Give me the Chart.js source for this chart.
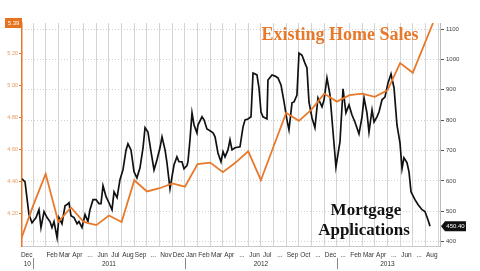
<!DOCTYPE html>
<html>
<head>
<meta charset="utf-8">
<script src="https://cdn.jsdelivr.net/npm/chart.js@4.4.1/dist/chart.umd.min.js"></script>
<style>
  html, body { margin: 0; padding: 0; background: #fff; }
  canvas { display: block; }
</style>
</head>
<body>
<canvas id="homeChart" width="480" height="271"></canvas>
<script>
// x values are months counted from 1 Jan 2011 (0 = start of Jan 2011)
const firstMonth = -1; // Dec 2010
const monthLabels = ['Dec', '', 'Feb', 'Mar', 'Apr', '...', 'Jun', 'Jul', 'Aug', 'Sep', '...', 'Nov', 'Dec',
  'Jan', 'Feb', 'Mar', 'Apr', '...', 'Jun', 'Jul', '...', 'Sep', 'Oct', '...', 'Dec',
  '...', 'Feb', 'Mar', 'Apr', '...', 'Jun', '...', 'Aug'];
const yearLabels = ['10', '2011', '2012', '2013'];
const yearMids = [-0.45, 6, 18, 28];
const yearBreaks = [0, 12, 24];

// Existing home sales, millions (left axis)
const salesMonths = [-1, 0, 1, 2, 3, 4, 5, 6, 7, 8, 9, 10, 11, 12, 13, 14, 15, 16,
  17, 18, 19, 20, 21, 22, 23, 24, 25, 26, 27, 28, 29, 30, 31.6];
const salesValues = [4.03, 4.25, 4.45, 4.15, 4.24, 4.15, 4.13, 4.19, 4.15, 4.41, 4.34, 4.36, 4.39, 4.37, 4.51, 4.52, 4.46, 4.52,
  4.59, 4.41, 4.62, 4.83, 4.78, 4.85, 4.95, 4.90, 4.94, 4.95, 4.93, 4.97, 5.14, 5.08, 5.39];

// Mortgage applications index (right axis)
const mortgageMonths = [
  -0.87, -0.63, -0.32, -0.08, 0.24, 0.47, 0.63, 0.87, 1.11, 1.34,
  1.50, 1.66, 1.90, 2.05, 2.29, 2.53, 2.69, 2.84, 3.00, 3.24,
  3.48, 3.63, 3.87, 4.11, 4.34, 4.50, 4.74, 4.98, 5.21, 5.37,
  5.53, 5.77, 6.00, 6.24, 6.40, 6.64, 6.87, 7.11, 7.35, 7.50,
  7.74, 7.98, 8.21, 8.45, 8.69, 8.85, 9.08, 9.32, 9.56, 9.79,
  10.03, 10.19, 10.43, 10.58, 10.82, 10.98, 11.14, 11.37, 11.53, 11.77,
  11.93, 12.16, 12.24, 12.40, 12.56, 12.72, 12.95, 13.03, 13.35, 13.51,
  13.74, 13.98, 14.22, 14.38, 14.61, 14.85, 15.01, 15.17, 15.40, 15.56,
  15.72, 15.96, 16.35, 16.59, 16.75, 16.98, 17.22, 17.38, 17.69, 17.85,
  18.01, 18.17, 18.48, 18.56, 18.88, 19.12, 19.35, 19.59, 19.83, 20.06,
  20.22, 20.46, 20.62, 20.85, 21.01, 21.25, 21.48, 21.64, 21.80, 22.04,
  22.27, 22.51, 22.83, 22.99, 23.22, 23.46, 23.70, 23.93, 24.25, 24.49,
  24.72, 24.96, 25.20, 25.43, 25.75, 25.99, 26.15, 26.38, 26.54, 26.78,
  26.94, 27.17, 27.33, 27.57, 27.80, 28.04, 28.28, 28.52, 28.75, 28.99,
  29.15, 29.30, 29.54, 29.70, 29.86, 30.17, 30.41, 30.73, 30.96, 31.20,
  31.36];
const mortgageValues = [
  607, 597, 489, 462, 479, 505, 446, 499, 479, 466,
  446, 466, 413, 479, 459, 518, 522, 528, 485, 479,
  459, 466, 446, 489, 466, 505, 538, 538, 525, 525,
  584, 548, 528, 505, 564, 545, 604, 637, 702, 722,
  702, 630, 610, 643, 709, 775, 761, 696, 636, 669,
  709, 745, 702, 660, 574, 614, 653, 679, 663, 663,
  640, 650, 663, 735, 824, 784, 758, 784, 811, 801,
  771, 765, 758, 745, 692, 663, 696, 679, 702, 735,
  702, 709, 712, 778, 801, 804, 811, 955, 949, 906,
  827, 811, 804, 932, 949, 945, 939, 916, 860, 801,
  768, 857, 860, 883, 1021, 1014, 988, 972, 860, 807,
  775, 873, 844, 867, 939, 883, 761, 646, 729, 903,
  824, 850, 817, 794, 755, 811, 873, 824, 761, 834,
  794, 811, 827, 867, 876, 922, 952, 906, 784, 725,
  640, 676, 660, 630, 564, 538, 522, 505, 499, 472,
  450.4];

const leftTicks = [4.2, 4.4, 4.6, 4.8, 5.0, 5.2];
const rightTicks = [400, 500, 600, 700, 800, 900, 1000, 1100];

const ORANGE = '#e8792b';
const xMin = -0.87, xMax = 32.15;

const overlay = {
  id: 'overlay',
  afterDraw(chart) {
    const ctx = chart.ctx;
    const x = chart.scales.x, yL = chart.scales.y, yR = chart.scales.y1;
    ctx.save();

    // year row under the month labels
    ctx.font = '6.5px "Liberation Sans"';
    ctx.fillStyle = '#333';
    ctx.textAlign = 'center';
    ctx.textBaseline = 'middle';
    yearLabels.forEach((t, i) => ctx.fillText(t, x.getPixelForValue(yearMids[i]), 264));
    ctx.strokeStyle = '#888';
    ctx.lineWidth = 1;
    yearBreaks.forEach(v => {
      const px = Math.round(x.getPixelForValue(v)) + 0.5;
      ctx.beginPath(); ctx.moveTo(px, 258); ctx.lineTo(px, 269); ctx.stroke();
    });

    // series names
    ctx.font = 'bold 18px "Liberation Serif"';
    ctx.fillStyle = ORANGE;
    ctx.textBaseline = 'alphabetic';
    ctx.fillText('Existing Home Sales', 340, 40);
    ctx.font = 'bold 17px "Liberation Serif"';
    ctx.fillStyle = '#111';
    ctx.fillText('Mortgage', 366, 215);
    ctx.fillText('Applications', 364, 235);

    // last value tags
    ctx.font = '6px "Liberation Sans"';
    ctx.textBaseline = 'middle';
    const ly = yL.getPixelForValue(salesValues[salesValues.length - 1]);
    ctx.fillStyle = '#e8731f';
    ctx.fillRect(5, ly - 5, 17, 10);
    ctx.fillStyle = '#fff';
    ctx.fillText(salesValues[salesValues.length - 1].toFixed(2), 13.5, ly);

    const ry = yR.getPixelForValue(mortgageValues[mortgageValues.length - 1]);
    ctx.fillStyle = '#111';
    ctx.beginPath();
    ctx.moveTo(441, ry); ctx.lineTo(445, ry - 5); ctx.lineTo(466, ry - 5);
    ctx.lineTo(466, ry + 5); ctx.lineTo(445, ry + 5); ctx.closePath();
    ctx.fill();
    ctx.fillStyle = '#fff';
    ctx.fillText(mortgageValues[mortgageValues.length - 1].toFixed(2), 455.5, ry);
    ctx.restore();
  }
};

new Chart(document.getElementById('homeChart'), {
  type: 'line',
  data: {
    datasets: [{
      label: 'Existing Home Sales',
      data: salesMonths.map((m, i) => ({ x: m, y: salesValues[i] })),
      yAxisID: 'y',
      borderColor: ORANGE,
      borderWidth: 1.8,
      pointRadius: 0,
      tension: 0,
      order: 1
    }, {
      label: 'Mortgage Applications',
      data: mortgageMonths.map((m, i) => ({ x: m, y: mortgageValues[i] })),
      yAxisID: 'y1',
      borderColor: '#111',
      borderWidth: 1.7,
      pointRadius: 0,
      tension: 0,
      order: 2
    }]
  },
  options: {
    responsive: false,
    animation: false,
    layout: { padding: { top: 23, left: 0, right: 0, bottom: 0 } },
    plugins: { legend: { display: false }, tooltip: { enabled: false } },
    scales: {
      x: {
        type: 'linear', position: 'bottom', min: xMin, max: xMax,
        afterBuildTicks: s => { s.ticks = monthLabels.map((l, i) => ({ value: firstMonth + i + 0.5 })); },
        afterFit: s => { s.height = 25; },
        ticks: {
          autoSkip: false, maxRotation: 0, padding: 5,
          color: '#333', font: { size: 6.5, family: 'Liberation Sans' },
          callback: (v, i) => monthLabels[i]
        },
        grid: { display: false, drawTicks: false },
        border: { display: true, color: '#c8c8c8', dash: [1, 2] }
      },
      xg: {
        type: 'linear', position: 'top', min: xMin, max: xMax,
        afterBuildTicks: s => {
          const t = [];
          for (let m = 0; m <= 32; m++) t.push({ value: m });
          s.ticks = t;
        },
        afterFit: s => { s.height = 0; },
        ticks: { display: false },
        grid: { color: '#d4d4d4', borderDash: [1, 2], drawTicks: false },
        border: { display: false }
      },
      y: {
        position: 'left', min: 4.0, max: 5.39,
        afterBuildTicks: s => { s.ticks = leftTicks.map(v => ({ value: v })); },
        afterFit: s => { s.width = 22; },
        ticks: {
          padding: 1, color: '#e49a62', font: { size: 5.5, family: 'Liberation Sans' },
          callback: v => v.toFixed(2)
        },
        grid: { drawOnChartArea: false, color: ORANGE, tickLength: 3 },
        border: { color: ORANGE, width: 1.5 }
      },
      y1: {
        position: 'right', min: 385.5, max: 1120,
        afterBuildTicks: s => { s.ticks = rightTicks.map(v => ({ value: v })); },
        afterFit: s => { s.width = 40; },
        ticks: {
          padding: 2, color: '#444', font: { size: 6, family: 'Liberation Sans' },
          callback: v => String(v)
        },
        grid: { color: '#cfcfcf', borderDash: [1, 2], tickLength: 4, tickColor: '#555', tickBorderDash: [] },
        border: { display: true, color: '#bbb', dash: [1, 2] }
      }
    }
  },
  plugins: [overlay]
});
</script>
</body>
</html>
